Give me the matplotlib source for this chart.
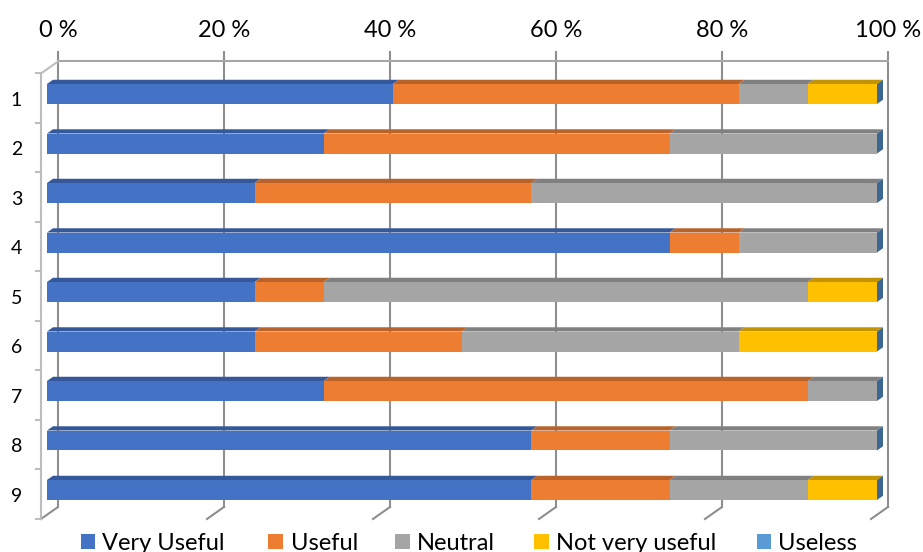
import matplotlib
matplotlib.use("Agg")
import matplotlib.pyplot as plt
from matplotlib.patches import Polygon, Rectangle
from matplotlib.lines import Line2D
from matplotlib import transforms as mtrans
import numpy as np

# ---------------- data ----------------
categories = ["1", "2", "3", "4", "5", "6", "7", "8", "9"]
series_names = ["Very Useful", "Useful", "Neutral", "Not very useful", "Useless"]
very_useful = [5, 4, 3, 9, 3, 3, 4, 7, 7]
useful = [5, 5, 4, 1, 1, 3, 7, 2, 2]
neutral = [1, 3, 5, 2, 7, 4, 1, 3, 2]
not_very_useful = [1, 0, 0, 0, 1, 2, 0, 0, 1]
useless = [0, 0, 0, 0, 0, 0, 0, 0, 0]
x_ticks = [0, 20, 40, 60, 80, 100]
x_tick_labels = ["0 %", "20 %", "40 %", "60 %", "80 %", "100 %"]

front_colors = ["#4472C4", "#ED7D31", "#A5A5A5", "#FFC000", "#5B9BD5"]
top_colors = ["#35589A", "#B9622A", "#808080", "#C39300", "#41719C"]
side_color = "#3B6790"

FONT = ["Lato", "DejaVu Sans"]
plt.rcParams["font.family"] = FONT

W, H = 923, 552
fig = plt.figure(figsize=(W / 100, H / 100), dpi=100)
fig.patch.set_facecolor("white")

# axes = front plane of the bars
ax_left, ax_right = 47, 877
ax_top, ax_bot = 69.25, 514.75
ax = fig.add_axes([ax_left / W, 1 - ax_bot / H, (ax_right - ax_left) / W, (ax_bot - ax_top) / H])
ax.set_xlim(0, 100)
ax.set_ylim(len(categories) + 0.5, 0.5)
ax.axis("off")

def px_to_data(dx, dy):
    inv = ax.transData.inverted()
    x0, y0 = inv.transform((0, 0))
    x1, y1 = inv.transform((dx, dy))
    return x1 - x0, y1 - y0

slope = 12.0 / 17.0
bar_dx, bar_dy = px_to_data(6, 6 * slope)        # bar depth
back_dx, back_dy = px_to_data(11, 11 * slope)    # back wall
front_dx, front_dy = px_to_data(-6, -6 * slope)  # front of box
_, tick_ext = px_to_data(0, 9.5)
tick_len, _ = px_to_data(5, 0)

counts = np.array([very_useful, useful, neutral, not_very_useful, useless], dtype=float)
pct = counts / counts.sum(axis=0) * 100.0
ypos = np.arange(1, len(categories) + 1)
bar_h = 20 / 49.5

y_top_box = 0.5
y_bot_box = len(categories) + 0.5

grid_c = "#8E8E8E"
wall_c = "#BDBDBD"
lw = 1.5

# back wall grid lines
for xv in x_ticks:
    ax.add_line(Line2D([xv + back_dx, xv + back_dx],
                       [y_top_box + back_dy + tick_ext, y_bot_box + back_dy],
                       color=grid_c, lw=lw, zorder=1, clip_on=False))
    # floor slants
    ax.add_line(Line2D([xv + back_dx, xv + front_dx],
                       [y_bot_box + back_dy, y_bot_box + front_dy],
                       color=grid_c, lw=lw, zorder=1, clip_on=False))
# top edge of back wall
ax.add_line(Line2D([0 + back_dx, 100 + back_dx], [y_top_box + back_dy, y_top_box + back_dy],
                   color="#A6A6A6", lw=lw, zorder=1, clip_on=False))
# top slant of left wall
ax.add_line(Line2D([0 + back_dx, 0 + front_dx], [y_top_box + back_dy, y_top_box + front_dy],
                   color=wall_c, lw=lw, zorder=1, clip_on=False))
# left wall front edge
ax.add_line(Line2D([front_dx, front_dx], [y_top_box + front_dy, y_bot_box + front_dy],
                   color=wall_c, lw=lw, zorder=1, clip_on=False))
# left ticks
for yb in np.arange(0.5, len(categories) + 1, 1.0):
    ax.add_line(Line2D([front_dx - tick_len, front_dx], [yb + front_dy, yb + front_dy],
                       color=wall_c, lw=lw, zorder=1, clip_on=False))

# bars
lefts = np.zeros(len(categories))
for si in range(len(series_names)):
    widths = pct[si]
    ax.barh(ypos, widths, left=lefts, height=bar_h, color=front_colors[si],
            edgecolor="none", zorder=4, label=series_names[si])
    for yi, (l, w) in enumerate(zip(lefts, widths)):
        if w <= 0:
            continue
        yt = ypos[yi] - bar_h / 2
        ax.add_patch(Polygon([(l, yt), (l + w, yt), (l + w + bar_dx, yt + bar_dy), (l + bar_dx, yt + bar_dy)],
                             closed=True, facecolor=top_colors[si], edgecolor="none", zorder=3,
                             clip_on=False))
    lefts = lefts + widths

# right side faces
for yi in range(len(categories)):
    yt = ypos[yi] - bar_h / 2
    yb = ypos[yi] + bar_h / 2
    r = lefts[yi]
    ax.add_patch(Polygon([(r, yt), (r, yb), (r + bar_dx, yb + bar_dy), (r + bar_dx, yt + bar_dy)],
                         closed=True, facecolor=side_color, edgecolor="none", zorder=3,
                         clip_on=False))

# x tick labels (top)
lab_tr = mtrans.offset_copy(ax.transData, fig=fig, x=0, y=24.5, units="dots")
for xv, lab in zip(x_ticks, x_tick_labels):
    ax.text(xv + back_dx, y_top_box + back_dy, lab, transform=lab_tr, ha="center", va="baseline",
            fontsize=17, color="#000000")

# category labels
cat_x, _ = px_to_data(16.5 - ax_left, 0)
cat_tr = mtrans.offset_copy(ax.transData, fig=fig, x=0, y=-11.7, units="dots")
for yv, lab in zip(ypos, categories):
    ax.text(cat_x, yv, lab, transform=cat_tr, ha="center", va="baseline", fontsize=14, color="#000000")

# legend (manual, Excel-like)
sq_x = [80.7, 268, 395, 534, 756.7]
tx_x = [101.7, 290.7, 416.7, 556, 778]
sq_size = 14.5
for i, name in enumerate(series_names):
    fig.patches.append(Rectangle((sq_x[i] / W, 1 - 548.5 / H), sq_size / W, sq_size / H,
                                 transform=fig.transFigure, facecolor=front_colors[i], edgecolor="none"))
    fig.text(tx_x[i] / W, 1 - 549.5 / H, name, ha="left", va="baseline", fontsize=17, color="#000000")

fig.savefig("out.png", dpi=100, facecolor="white")
